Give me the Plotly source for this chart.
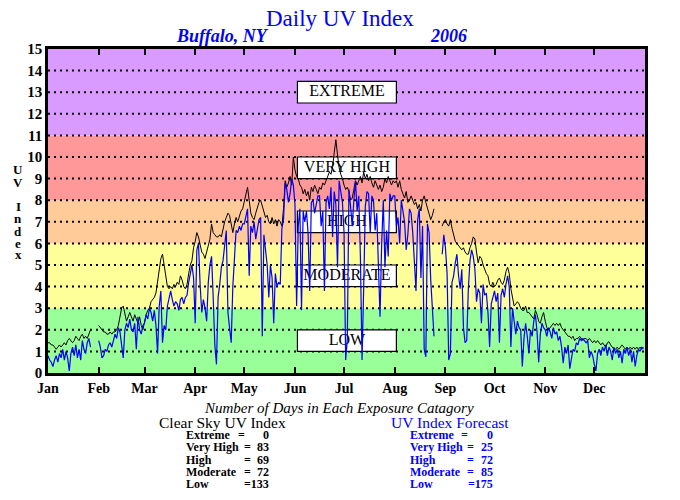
import plotly.graph_objects as go

# ---------------- data ----------------
month_names = ["Jan", "Feb", "Mar", "Apr", "May", "Jun", "Jul", "Aug", "Sep", "Oct", "Nov", "Dec"]
month_start_days = [0, 31, 59, 90, 120, 151, 181, 212, 243, 273, 304, 334]

clear_jan = [1.4,1.4,1.3,1.3,1.2,1.1,1.2,1.3,1.2,1.3,1.4,1.3,1.5,1.6,1.5,1.4,1.5,1.7,1.6,1.5,1.7,1.8,1.6,1.7,1.6,1.8,2.0,None,None,None,None]
clear_feb = [2.2,2.1,2.0,1.9,1.9,1.8,1.8,1.9,1.8,1.9,1.9,2.0,2.2,2.6,3.0,3.1,2.7,2.4,2.6,2.8,2.6,2.4,2.7,2.5,2.3,2.6,2.2,2.0]
clear_mar = [2.4,2.7,2.9,3.0,3.3,3.4,3.5,3.7,4.2,4.8,5.3,5.5,5.0,4.4,4.0,3.9,4.0,3.9,4.1,4.0,4.2,4.1,4.5,4.3,4.0,3.9,4.1,4.6,5.0,5.2,5.8]
clear_apr = [6.1,6.5,6.3,5.9,5.6,5.5,5.3,5.6,5.9,6.2,6.9,6.5,6.4,6.3,6.3,6.4,6.3,6.7,7.0,7.2,7.4,7.3,6.8,6.5,6.9,7.2,7.0,7.3,7.5,7.6]
clear_may = [7.9,8.3,8.6,8.0,7.4,7.2,7.1,7.4,7.7,7.9,8.0,7.7,7.4,7.2,7.3,7.0,6.9,7.2,6.9,7.1,6.8,7.1,7.0,6.8,7.6,8.9,8.6,8.8,9.1,8.7,10.0]
clear_jun = [9.4,9.1,9.0,8.7,8.6,8.3,8.5,8.2,8.4,8.0,8.6,8.4,8.7,8.5,8.3,8.6,8.5,8.8,8.7,8.9,9.1,9.3,9.2,9.55,10.2,10.8,10.1,9.5,9.2,9.0]
clear_jul = [8.7,8.5,8.6,8.4,8.0,8.1,8.5,8.9,8.7,8.9,9.1,8.8,9.3,9.0,9.2,8.9,9.1,8.8,8.6,8.9,8.7,8.5,8.7,8.4,8.6,9.0,8.8,9.1,8.9,8.7,8.9]
clear_aug = [8.8,8.9,8.6,8.9,8.5,8.3,8.1,8.4,7.9,8.0,8.2,8.0,7.8,7.9,7.6,7.8,7.5,8.0,8.2,7.9,7.6,7.4,7.1,7.3,7.6,None,None,None,None,6.8,7.0]
clear_sep = [7.1,6.9,6.8,7.1,6.7,6.4,6.1,6.0,5.9,5.8,5.7,5.8,5.6,5.5,5.5,5.8,6.0,6.3,6.2,5.6,5.1,5.4,5.3,5.0,4.8,4.6,4.5,4.1,4.0,4.2]
clear_oct = [4.0,4.1,4.3,4.4,4.2,4.1,4.3,4.7,4.9,4.6,3.9,3.4,3.1,3.2,3.3,3.2,3.0,2.9,2.9,3.1,2.8,2.8,2.7,2.6,2.5,2.9,2.7,2.4,2.3,2.6,2.8]
clear_nov = [2.4,2.1,2.0,2.1,2.2,2.3,2.2,2.3,2.2,2.3,2.1,2.0,1.9,1.8,1.7,1.7,1.6,1.7,1.5,1.6,1.6,1.7,1.6,1.5,1.6,1.6,1.5,1.6,1.5,1.4]
clear_dec = [1.5,1.4,1.5,1.4,1.3,1.4,1.3,1.2,1.4,1.45,1.3,1.2,1.1,1.1,1.2,1.1,1.2,1.3,1.2,1.1,1.2,1.1,1.2,1.1,1.2,1.1,1.2,1.1,1.2,1.1,1.2]

fc_jan = [0.8,0.6,0.5,0.3,0.6,0.8,0.5,0.9,0.7,1.1,0.6,1.0,0.7,0.1,0.9,1.2,0.8,1.3,0.7,1.1,0.6,1.5,1.1,0.9,1.4,1.6,1.2,None,None,None,None]
fc_feb = [1.5,1.2,0.7,0.8,1.1,1.0,1.3,1.4,1.2,1.5,1.8,1.6,2.1,1.9,1.4,0.7,2.0,2.3,2.1,2.5,2.0,1.9,2.3,1.1,2.6,2.0,1.8,2.2]
fc_mar = [2.3,2.7,2.5,3.0,2.8,2.4,2.9,2.2,0.9,3.1,3.8,1.4,2.2,2.0,3.1,3.4,3.8,3.4,3.1,3.3,3.2,2.9,3.4,3.5,3.2,3.5,3.6,4.2,4.6,5.0,4.4]
fc_apr = [2.3,5.7,6.0,4.1,2.8,3.4,3.0,2.4,4.2,5.0,5.4,3.5,1.3,0.4,3.5,4.1,4.9,5.2,5.8,6.6,2.8,1.9,1.4,4.0,5.6,6.6,6.5,6.8,6.6,6.9]
fc_may = [6.9,7.2,7.6,4.5,6.8,6.5,7.0,6.2,6.6,7.1,7.2,1.7,6.4,5.6,5.0,3.5,5.0,4.4,2.3,4.6,4.0,4.2,4.1,6.7,7.1,8.8,8.5,7.9,8.3,9.0,8.7]
fc_jun = [7.8,3.1,6.8,7.6,2.9,7.5,7.0,7.5,6.5,3.8,7.9,8.0,7.4,7.8,8.2,8.2,6.8,7.5,3.8,7.9,8.2,7.6,8.6,6.3,8.4,7.8,4.9,8.9,8.4,7.9]
fc_jul = [6.5,0.6,1.6,8.5,7.7,6.8,8.0,8.9,7.5,8.2,5.4,0.6,3.9,7.7,8.4,8.3,6.5,8.2,8.0,6.6,7.4,5.2,2.6,6.0,8.0,4.9,6.6,5.4,8.3,8.0,8.2]
fc_aug = [8.2,6.8,7.2,6.0,8.0,7.4,7.0,5.7,6.4,7.6,7.4,6.5,4.8,3.8,7.1,7.6,4.4,6.8,1.1,0.75,6.9,6.5,4.3,3.0,1.7,None,None,None,None,5.5,6.4]
fc_sep = [5.8,4.6,0.6,0.9,4.2,4.5,5.1,5.5,4.5,3.9,4.8,2.1,1.4,1.5,3.9,5.2,5.7,5.4,4.8,3.3,3.9,3.7,2.3,4.1,3.6,3.7,2.8,1.2,3.2,3.5]
fc_oct = [3.8,3.3,3.7,1.4,3.6,3.9,3.5,4.1,4.5,4.0,1.2,3.0,2.5,1.8,2.4,2.1,2.0,0.3,1.6,2.3,1.7,0.9,2.0,1.7,2.4,2.7,1.9,0.5,1.8,2.3,2.1]
fc_nov = [2.0,1.7,2.1,1.9,1.6,2.1,1.8,1.9,1.5,1.7,1.2,0.45,1.2,0.9,1.3,0.2,0.6,1.1,1.0,1.4,1.3,1.6,1.5,1.6,1.5,1.4,1.5,0.7,1.0,0.8]
fc_dec = [0.4,0.1,0.9,1.1,0.8,1.2,1.0,1.3,0.8,1.2,1.0,0.6,1.2,0.9,1.1,0.7,1.0,0.45,1.1,0.9,1.2,0.8,1.1,0.5,1.0,0.3,0.8,1.1,1.0,1.2,1.1]

# exposure categories (band limits) and labels
band_lows = [0, 3, 6, 8, 11]
band_highs = [3, 6, 8, 11, 15]
band_colors = ["#99FF99", "#FFFF99", "#FFCC99", "#FF9999", "#D99BFF"]
cat_labels = ["LOW", "MODERATE", "HIGH", "VERY HIGH", "EXTREME"]
cat_box_lo = [1, 4, 6.5, 9, 12.5]
cat_box_hi = [2, 5, 7.5, 10, 13.5]

clear_counts = [("Extreme", "0"), ("Very High", "83"), ("High", "69"), ("Moderate", "72"), ("Low", "133")]
fc_counts = [("Extreme", "0"), ("Very High", "25"), ("High", "72"), ("Moderate", "85"), ("Low", "175")]

clear_sky = (clear_jan + clear_feb + clear_mar + clear_apr + clear_may + clear_jun +
             clear_jul + clear_aug + clear_sep + clear_oct + clear_nov + clear_dec)
forecast = (fc_jan + fc_feb + fc_mar + fc_apr + fc_may + fc_jun +
            fc_jul + fc_aug + fc_sep + fc_oct + fc_nov + fc_dec)
assert len(clear_sky) == 365, len(clear_sky)
assert len(forecast) == 365, len(forecast)
days = list(range(365))

# ---------------- figure ----------------
SERIF = "Liberation Serif, Times New Roman, serif"
OFF = 8  # page body margin
W, H = 680 - OFF, 500 - OFF
L, R, T, B = 48 - OFF, 35, 49 - OFF, 127
PW, PH = W - L - R, H - T - B


def pxx(x):
    return (x - OFF - L) / PW


def pxy(y):
    return (H - B - (y - OFF)) / PH


fig = go.Figure()

shapes = []
for lo, hi, col in zip(band_lows, band_highs, band_colors):
    shapes.append(dict(type="rect", xref="x", yref="y", x0=0, x1=365, y0=lo, y1=hi,
                       fillcolor=col, line=dict(width=0), layer="below"))
for g in range(1, 15):
    shapes.append(dict(type="line", xref="x", yref="y", x0=0, x1=365, y0=g, y1=g,
                       line=dict(color="black", width=2, dash="2px,4px"), layer="below"))
box_x0, box_x1 = 152.5, 213
for lo, hi in zip(cat_box_lo, cat_box_hi):
    shapes.append(dict(type="rect", xref="x", yref="y", x0=box_x0, x1=box_x1, y0=lo, y1=hi,
                       fillcolor="white", line=dict(color="black", width=1.2), layer="below"))

fig.add_trace(go.Scatter(
    x=[(box_x0 + box_x1) / 2] * len(cat_labels),
    y=[(lo + hi) / 2 for lo, hi in zip(cat_box_lo, cat_box_hi)],
    text=cat_labels, mode="text", textposition="middle center",
    textfont=dict(family=SERIF, size=16, color="black"),
    hoverinfo="skip", showlegend=False))

fig.add_trace(go.Scatter(x=days, y=clear_sky, mode="lines", name="Clear Sky UV Index",
                         line=dict(color="black", width=1), connectgaps=False, showlegend=False))
fig.add_trace(go.Scatter(x=days, y=forecast, mode="lines", name="UV Index Forecast",
                         line=dict(color="#0000FF", width=1.2), connectgaps=False, showlegend=False))

ann = []
ann.append(dict(text="Daily UV Index", x=pxx(340), y=pxy(18), xref="paper", yref="paper",
                showarrow=False, font=dict(family=SERIF, size=23, color="#0000FF"),
                xanchor="center", yanchor="middle"))
ann.append(dict(text="<b><i>Buffalo, NY</i></b>", x=pxx(222), y=pxy(36), xref="paper", yref="paper",
                showarrow=False, font=dict(family=SERIF, size=18, color="#0000FF"),
                xanchor="center", yanchor="middle"))
ann.append(dict(text="<b><i>2006</i></b>", x=pxx(448), y=pxy(36), xref="paper", yref="paper",
                showarrow=False, font=dict(family=SERIF, size=18, color="#0000FF"),
                xanchor="center", yanchor="middle"))

for ch, yy in zip(["U", "V", "I", "n", "d", "e", "x"], [169, 183, 206, 218, 231, 243, 255]):
    ann.append(dict(text="<b>%s</b>" % ch, x=pxx(18), y=pxy(yy), xref="paper", yref="paper",
                    showarrow=False, font=dict(family=SERIF, size=13, color="black"),
                    xanchor="center", yanchor="middle"))

ann.append(dict(text="<i>Number of Days in Each Exposure Catagory</i>", x=pxx(339), y=pxy(408),
                xref="paper", yref="paper", showarrow=False,
                font=dict(family=SERIF, size=15, color="black"), xanchor="center", yanchor="middle"))
ann.append(dict(text="Clear Sky UV Index", x=pxx(223), y=pxy(422), xref="paper", yref="paper",
                showarrow=False, font=dict(family=SERIF, size=15.5, color="black"),
                xanchor="center", yanchor="middle"))
ann.append(dict(text="UV Index Forecast", x=pxx(450), y=pxy(422), xref="paper", yref="paper",
                showarrow=False, font=dict(family=SERIF, size=15.5, color="#0000FF"),
                xanchor="center", yanchor="middle"))

row_y = [435, 447.3, 459.5, 471.8, 484.3]
for col_items, x_lab, x_eq, x_val, color in [(clear_counts, 184, 247, 271, "black"),
                                            (fc_counts, 408, 470, 495, "#0000FF")]:
    for (lab, val), yy in zip(col_items, row_y):
        f = dict(family=SERIF, size=12, color=color)
        ann.append(dict(text="<b>%s</b>" % lab, x=pxx(x_lab), y=pxy(yy), xref="paper", yref="paper",
                        showarrow=False, font=f, xanchor="left", yanchor="middle"))
        if lab == "Low":
            ann.append(dict(text="<b>=%s</b>" % val, x=pxx(x_val), y=pxy(yy), xref="paper", yref="paper",
                            showarrow=False, font=f, xanchor="right", yanchor="middle"))
        else:
            ann.append(dict(text="<b>=</b>", x=pxx(x_eq - (6 if lab == "Extreme" else 0)), y=pxy(yy),
                            xref="paper", yref="paper", showarrow=False, font=f,
                            xanchor="center", yanchor="middle"))
            ann.append(dict(text="<b>%s</b>" % val, x=pxx(x_val), y=pxy(yy), xref="paper", yref="paper",
                            showarrow=False, font=f, xanchor="right", yanchor="middle"))

fig.update_layout(
    width=W, height=H,
    margin=dict(l=L, r=R, t=T, b=B, pad=0),
    paper_bgcolor="white", plot_bgcolor="white",
    shapes=shapes, annotations=ann, showlegend=False,
    xaxis=dict(range=[0, 365], tickmode="array", tickvals=month_start_days,
               ticktext=["<b>%s</b>" % m for m in month_names],
               ticks="inside", ticklen=6, tickwidth=1.5, tickcolor="black",
               showline=True, linecolor="black", linewidth=2.5, mirror="allticks",
               showgrid=False, zeroline=False,
               tickfont=dict(family=SERIF, size=14, color="black")),
    yaxis=dict(range=[0, 15], tickmode="array", tickvals=list(range(16)),
               ticktext=["<b>%d</b>" % v for v in range(16)], ticks="",
               showline=True, linecolor="black", linewidth=2.5, mirror=True,
               showgrid=False, zeroline=False,
               tickfont=dict(family=SERIF, size=15, color="black")),
)

fig.write_html("out.html")
